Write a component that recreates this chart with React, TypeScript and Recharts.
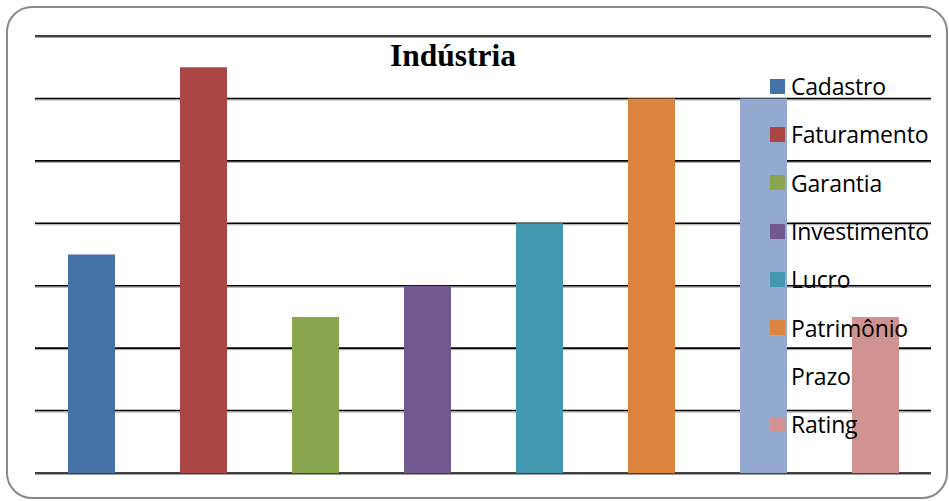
import React from "react";
import { BarChart, Bar, XAxis, YAxis, CartesianGrid, Cell } from "recharts";

const categories = ["Cadastro", "Faturamento", "Garantia", "Investimento", "Lucro", "Patrimônio", "Prazo", "Rating"];
const values = [3.5, 6.5, 2.5, 3, 4, 6, 6, 2.5];
const colors = ["#4572A7", "#AA4643", "#89A54E", "#71588F", "#4198AF", "#DB843D", "#93A9CF", "#D19392"];
// Prazo has no swatch in the original legend
const legendSwatches = ["#4572A7", "#AA4643", "#89A54E", "#71588F", "#4198AF", "#DB843D", "transparent", "#D19392"];
const yTicks = [0, 1, 2, 3, 4, 5, 6, 7];

const data = categories.map((name, i) => ({ name, value: values[i] }));

function GridLine(props: any) {
  const { x1, y1, x2, y2, key } = props;
  return (
    <g key={key}>
      <line x1={x1} y1={y1 + 1.5} x2={x2} y2={y2 + 1.5} stroke="#a0a0a0" strokeWidth={1} />
      <line x1={x1} y1={y1} x2={x2} y2={y2} stroke="#000" strokeWidth={1.6} />
    </g>
  );
}

export default function App() {
  return (
    <div style={{ position: "absolute", left: 0, top: 0, width: 949, height: 501, background: "#fff" }}>
      <div
        style={{
          position: "absolute",
          left: 6,
          top: 6,
          width: 938,
          height: 489,
          border: "2px solid #8a8a8a",
          borderRadius: 26,
        }}
      />
      <BarChart
        width={949}
        height={501}
        data={data}
        margin={{ top: 36, right: 18, bottom: 28, left: 35 }}
        style={{ position: "absolute", left: 0, top: 0 }}
      >
        <CartesianGrid vertical={false} horizontal={GridLine} />
        <XAxis dataKey="name" hide />
        <YAxis hide domain={[0, 7]} ticks={yTicks} />
        <Bar dataKey="value" barSize={47} isAnimationActive={false}>
          {data.map((d, i) => (
            <Cell key={d.name} fill={colors[i]} />
          ))}
        </Bar>
      </BarChart>
      <div
        style={{
          position: "absolute",
          left: 0,
          width: 906,
          top: 38,
          textAlign: "center",
          fontFamily: "'Liberation Serif', serif",
          fontWeight: "bold",
          fontSize: 31.5,
          lineHeight: "36px",
        }}
      >
        Indústria
      </div>
      <div style={{ position: "absolute", left: 770, top: 62, fontFamily: "'Open Sans', sans-serif", fontSize: 23 }}>
        {categories.map((c, i) => (
          <div key={c} style={{ display: "flex", alignItems: "center", height: 48.3 }}>
            <span style={{ width: 15, height: 15, background: legendSwatches[i], display: "inline-block", marginRight: 6 }} />
            <span style={{ color: "#000", letterSpacing: -0.2 }}>{c}</span>
          </div>
        ))}
      </div>
    </div>
  );
}
